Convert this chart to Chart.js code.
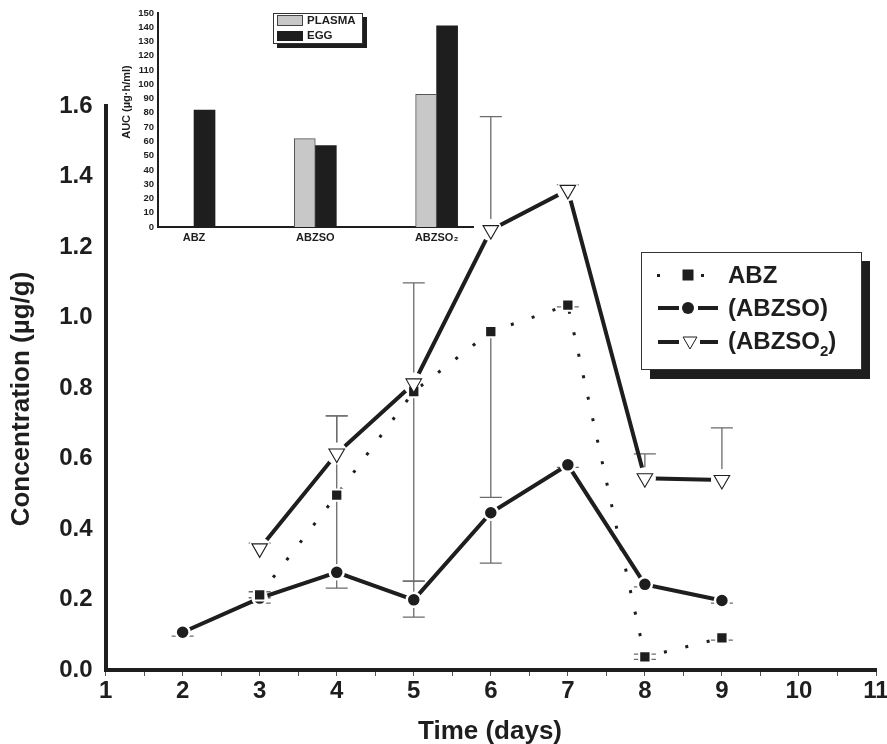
<!DOCTYPE html>
<html>
<head>
<meta charset="utf-8">
<script src="https://cdn.jsdelivr.net/npm/chart.js@4.4.0/dist/chart.umd.min.js"></script>
<style>
html, body { margin: 0; padding: 0; background: #fff; }
#wrap { position: relative; width: 887px; height: 744px; }
canvas { position: absolute; left: 0; top: 0; }
</style>
</head>
<body>
<div id="wrap">
  <canvas id="main" width="887" height="744"></canvas>
  <canvas id="inset" width="887" height="260"></canvas>
</div>
<script>
// --- main chart data (days, concentration µg/g)
const days = [2, 3, 4, 5, 6, 7, 8, 9];
const abz    = [null, 0.213, 0.496, 0.790, 0.960, 1.035, 0.037, 0.091];
const abzso  = [0.107, 0.204, 0.277, 0.199, 0.446, 0.582, 0.243, 0.197];
const abzso2 = [null, 0.345, 0.614, 0.813, 1.248, 1.362, 0.544, 0.539];

// error bar ends (low / high), null = none
const abzLo    = [null, 0.205, 0.271, 0.252, 0.490, 1.030, 0.030, 0.085];
const abzHi    = [null, 0.222, 0.721, 1.098, null, null, 0.045, null];
const abzsoLo  = [0.096, 0.190, 0.232, 0.150, 0.303, 0.575, 0.236, 0.190];
const abzsoHi  = [null, null, null, 0.252, null, null, null, null];
const abzso2Lo = [null, null, null, null, null, null, null, null];
const abzso2Hi = [null, 0.360, 0.721, null, 1.570, 1.376, 0.613, 0.687];

const yTicks = [0, 0.2, 0.4, 0.6, 0.8, 1.0, 1.2, 1.4, 1.6];

// --- inset data (AUC µg·h/ml)
const aucCats = ['ABZ', 'ABZSO', 'ABZSO₂'];
const plasma = [null, 62, 93];
const egg = [82, 57, 141];
const aucTicks = [0, 10, 20, 30, 40, 50, 60, 70, 80, 90, 100, 110, 120, 130, 140, 150];

const INK = '#1e1e1e';
const FONT = "'Liberation Sans', Arial, sans-serif";

function pts(vals) {
    return days.map((d, i) => ({ x: d, y: vals[i] }));
}

function marker(ctx, type, x, y, r) {
    ctx.beginPath();
    if (type === 'circle') {
        ctx.arc(x, y, r, 0, Math.PI * 2);
        ctx.fill();
    } else if (type === 'rect') {
        ctx.fillRect(x - r, y - r, 2 * r, 2 * r);
    } else if (type === 'tri') {
        ctx.moveTo(x, y + r);
        ctx.lineTo(x - r * 0.866, y - r / 2);
        ctx.lineTo(x + r * 0.866, y - r / 2);
        ctx.closePath();
        ctx.fillStyle = '#fff';
        ctx.fill();
        ctx.strokeStyle = INK;
        ctx.lineWidth = 1;
        ctx.stroke();
    }
}

const errorBars = {
    id: 'errorBars',
    beforeDatasetsDraw(chart) {
        const { ctx, scales: { x, y } } = chart;
        ctx.save();
        ctx.strokeStyle = '#6b6b6b';
        ctx.lineWidth = 1.3;
        [[abz, abzLo, abzHi], [abzso, abzsoLo, abzsoHi], [abzso2, abzso2Lo, abzso2Hi]].forEach(([vals, lo, hi]) => {
            days.forEach((d, i) => {
                if (vals[i] == null) return;
                const px = x.getPixelForValue(d);
                const py = y.getPixelForValue(vals[i]);
                [lo[i], hi[i]].forEach(e => {
                    if (e == null) return;
                    const pe = y.getPixelForValue(e);
                    ctx.beginPath();
                    ctx.moveTo(px, py);
                    ctx.lineTo(px, pe);
                    ctx.moveTo(px - 11, pe);
                    ctx.lineTo(px + 11, pe);
                    ctx.stroke();
                });
            });
        });
        ctx.restore();
    }
};

const mainDecor = {
    id: 'mainDecor',
    afterDraw(chart) {
        const ctx = chart.ctx;
        ctx.save();
        ctx.fillStyle = INK;
        // axis titles
        ctx.font = 'bold 26px ' + FONT;
        ctx.textAlign = 'center';
        ctx.textBaseline = 'alphabetic';
        ctx.fillText('Time (days)', 490, 739);
        ctx.save();
        ctx.translate(22, 399);
        ctx.rotate(-Math.PI / 2);
        ctx.textBaseline = 'middle';
        ctx.fillText('Concentration (µg/g)', 0, 0);
        ctx.restore();

        // legend box with shadow
        ctx.fillStyle = INK;
        ctx.fillRect(650, 261, 220, 118);
        ctx.fillStyle = '#fff';
        ctx.fillRect(641, 252, 221, 118);
        ctx.strokeStyle = '#333';
        ctx.lineWidth = 1;
        ctx.strokeRect(641.5, 252.5, 220, 117);

        ctx.fillStyle = INK;
        // ABZ row
        ctx.fillRect(657, 274, 3, 3);
        ctx.fillRect(701, 274, 3, 3);
        marker(ctx, 'rect', 688, 275, 5.5);
        // ABZSO row
        ctx.fillRect(658, 306, 21, 4);
        ctx.fillRect(698, 306, 20, 4);
        marker(ctx, 'circle', 688, 308, 6);
        // ABZSO2 row
        ctx.fillStyle = INK;
        ctx.fillRect(658, 340, 21, 4);
        ctx.fillRect(700, 340, 18, 4);
        marker(ctx, 'tri', 690, 341, 8);

        ctx.fillStyle = INK;
        ctx.font = 'bold 24px ' + FONT;
        ctx.textAlign = 'left';
        ctx.textBaseline = 'alphabetic';
        ctx.fillText('ABZ', 728, 283);
        ctx.fillText('(ABZSO)', 728, 316);
        let tx = 728;
        ctx.fillText('(ABZSO', tx, 349);
        tx += ctx.measureText('(ABZSO').width;
        ctx.font = 'bold 15px ' + FONT;
        ctx.fillText('2', tx, 356);
        tx += ctx.measureText('2').width;
        ctx.font = 'bold 24px ' + FONT;
        ctx.fillText(')', tx, 349);
        ctx.restore();
    }
};

new Chart(document.getElementById('main'), {
    type: 'line',
    data: {
        datasets: [
            {   // ABZSO2 line with white halos
                data: pts(abzso2),
                borderColor: INK,
                borderWidth: 4,
                pointRadius: 11,
                pointBackgroundColor: '#fff',
                pointBorderWidth: 0,
                order: 6
            },
            {
                data: pts(abzso),
                borderColor: INK,
                borderWidth: 4,
                pointStyle: 'circle',
                pointRadius: 7,
                pointBackgroundColor: INK,
                pointBorderColor: '#fff',
                pointBorderWidth: 2.5,
                order: 5
            },
            {
                data: pts(abz),
                borderColor: INK,
                borderWidth: 3,
                borderDash: [3, 19],
                pointStyle: 'rect',
                pointRadius: 8,
                pointBackgroundColor: INK,
                pointBorderColor: '#fff',
                pointBorderWidth: 2,
                order: 4
            },
            {   // ABZSO2 triangle markers
                data: pts(abzso2),
                showLine: false,
                pointStyle: 'triangle',
                pointRotation: 180,
                pointRadius: 9,
                pointBackgroundColor: '#fff',
                pointBorderColor: INK,
                pointBorderWidth: 1.1,
                order: 1
            }
        ]
    },
    options: {
        responsive: false,
        animation: false,
        layout: { padding: { top: 106, right: 10.4, left: 0, bottom: 0 } },
        plugins: { legend: { display: false }, tooltip: { enabled: false } },
        scales: {
            x: {
                type: 'linear',
                min: 1,
                max: 11,
                ticks: {
                    stepSize: 0.5,
                    autoSkip: false,
                    maxRotation: 0,
                    padding: 1,
                    color: INK,
                    font: { family: FONT, size: 24, weight: 'bold' },
                    callback: v => Number.isInteger(v) ? String(v) : ''
                },
                grid: { display: true, drawOnChartArea: false, drawTicks: true, tickLength: 6, color: '#555', lineWidth: 1 },
                border: { display: true, color: INK, width: 4 },
                afterFit: s => { s.height = 74; s.paddingLeft = 0; s.paddingRight = 0; }
            },
            y: {
                min: 0,
                max: 1.6,
                afterBuildTicks: s => { s.ticks = yTicks.map(v => ({ value: v })); },
                ticks: {
                    padding: 13,
                    color: INK,
                    font: { family: FONT, size: 24, weight: 'bold' },
                    callback: v => v.toFixed(1)
                },
                grid: { display: false, drawTicks: false },
                border: { display: true, color: INK, width: 4 },
                afterFit: s => { s.width = 105.6; }
            }
        }
    },
    plugins: [errorBars, mainDecor]
});

// --- inset bar chart
const insetDecor = {
    id: 'insetDecor',
    afterDraw(chart) {
        const ctx = chart.ctx;
        ctx.save();
        ctx.fillStyle = INK;
        ctx.font = 'bold 11px ' + FONT;
        ctx.textAlign = 'center';
        ctx.textBaseline = 'middle';
        ctx.save();
        ctx.translate(127, 102);
        ctx.rotate(-Math.PI / 2);
        ctx.fillText('AUC (µg·h/ml)', 0, 0);
        ctx.restore();

        ctx.fillStyle = INK;
        ctx.fillRect(277, 17, 90, 31);
        ctx.fillStyle = '#fff';
        ctx.fillRect(273, 13, 90, 31);
        ctx.strokeStyle = '#333';
        ctx.lineWidth = 1;
        ctx.strokeRect(273.5, 13.5, 89, 30);

        ctx.fillStyle = '#c8c8c8';
        ctx.fillRect(277, 15, 26, 11);
        ctx.strokeStyle = '#444';
        ctx.strokeRect(277.5, 15.5, 25, 10);
        ctx.fillStyle = INK;
        ctx.fillRect(277, 31, 26, 10);

        ctx.font = 'bold 11.5px ' + FONT;
        ctx.textAlign = 'left';
        ctx.fillText('PLASMA', 307, 21);
        ctx.fillText('EGG', 307, 36);
        ctx.restore();
    }
};

new Chart(document.getElementById('inset'), {
    type: 'bar',
    data: {
        datasets: [
            {
                data: aucCats.map((c, i) => ({ x: i, y: plasma[i] })),
                backgroundColor: '#c8c8c8',
                borderColor: '#555',
                borderWidth: 1,
                barThickness: 21
            },
            {
                data: aucCats.map((c, i) => ({ x: i, y: egg[i] })),
                backgroundColor: INK,
                borderWidth: 0,
                barThickness: 21
            }
        ]
    },
    options: {
        responsive: false,
        animation: false,
        layout: { padding: { top: 13, right: 414, left: 0, bottom: 0 } },
        plugins: { legend: { display: false }, tooltip: { enabled: false } },
        scales: {
            x: {
                type: 'linear',
                offset: false,
                min: -0.297,
                max: 2.30,
                afterBuildTicks: s => { s.ticks = [0, 1, 2].map(v => ({ value: v })); },
                ticks: {
                    padding: 4,
                    maxRotation: 0,
                    color: INK,
                    font: { family: FONT, size: 11, weight: 'bold' },
                    callback: v => aucCats[v]
                },
                grid: { display: false, drawTicks: false, offset: false },
                border: { display: true, color: INK, width: 2 },
                afterFit: s => { s.height = 33; s.paddingLeft = 0; s.paddingRight = 0; }
            },
            y: {
                min: 0,
                max: 150,
                afterBuildTicks: s => { s.ticks = aucTicks.map(v => ({ value: v })); },
                ticks: {
                    padding: 4,
                    autoSkip: false,
                    color: INK,
                    font: { family: FONT, size: 9.5, weight: 'bold' }
                },
                grid: { display: false, drawTicks: false },
                border: { display: true, color: INK, width: 2 },
                afterFit: s => { s.width = 158; }
            }
        }
    },
    plugins: [insetDecor]
});
</script>
</body>
</html>
